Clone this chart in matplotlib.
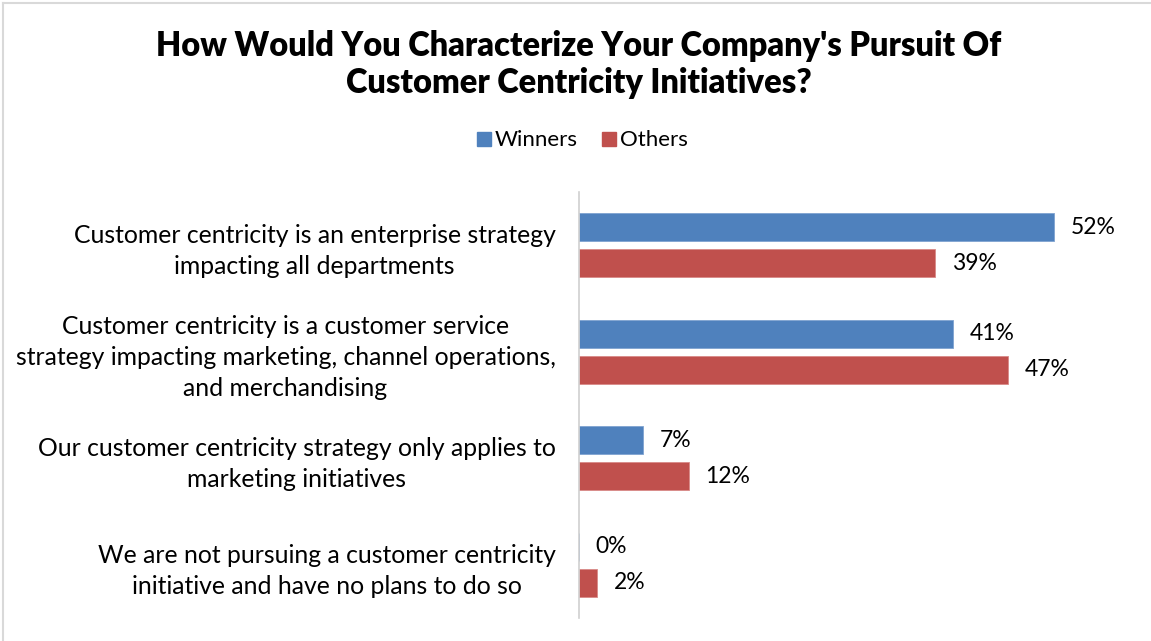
import matplotlib
matplotlib.use("Agg")
import matplotlib.pyplot as plt
import numpy as np
from matplotlib.lines import Line2D

plt.rcParams['font.family'] = ['Lato', 'DejaVu Sans']

# survey answers, top to bottom
categories = [
    "Customer centricity is an enterprise strategy\nimpacting all departments",
    "Customer centricity is a customer service\nstrategy impacting marketing, channel operations,\nand merchandising",
    "Our customer centricity strategy only applies to\nmarketing initiatives",
    "We are not pursuing a customer centricity\ninitiative and have no plans to do so",
]
winners = [52, 41, 7, 0]
others = [39, 47, 12, 2]

blue = '#4F81BD'
red = '#C0504D'

fig = plt.figure(figsize=(11.51, 6.41), dpi=100)
ax = fig.add_axes([579 / 1151, 1 - 618 / 641, 548 / 1151, 426 / 641])

y = np.arange(len(categories))
h = 0.265
off = 0.17
ax.barh(y - off, winners, height=h, color=blue, edgecolor='#7FA3D0', linewidth=0.6)
ax.barh(y + off, others, height=h, color=red, edgecolor='#D88A88', linewidth=0.6)

for i in range(len(categories)):
    ax.annotate(f"{winners[i]}%", (winners[i], y[i] - off), xytext=(12, 0),
                textcoords='offset points', va='center', ha='left', fontsize=16.5)
    ax.annotate(f"{others[i]}%", (others[i], y[i] + off), xytext=(12, 0),
                textcoords='offset points', va='center', ha='left', fontsize=16.5)

ax.set_xlim(0, 60)
ax.set_ylim(len(categories) - 0.5, -0.5)
ax.set_yticks(y)
ax.set_yticklabels(categories, fontsize=17.8, ha='right', multialignment='center',
                   linespacing=1.42)
ax.tick_params(axis='y', length=0, pad=17)
ax.set_xticks([])
for s in ['top', 'right', 'bottom']:
    ax.spines[s].set_visible(False)
ax.spines['left'].set_color('#D0D0D0')
ax.spines['left'].set_linewidth(1.2)

fig.text(0.503, 0.9, "How Would You Characterize Your Company's Pursuit Of\nCustomer Centricity Initiatives?",
         ha='center', va='center', fontsize=23.5, fontweight='heavy', linespacing=1.2)

handles = [Line2D([], [], marker='s', linestyle='', markersize=10, color=blue),
           Line2D([], [], marker='s', linestyle='', markersize=10, color=red)]
fig.legend(handles, ['Winners', 'Others'], loc='center', bbox_to_anchor=(0.505, 0.781),
           ncol=2, frameon=False, fontsize=16, handletextpad=0.1, columnspacing=1.0,
           handlelength=0.8)

# thin outer frame on top and left
fig.add_artist(Line2D([3 / 1151, 1], [1 - 3 / 641, 1 - 3 / 641], transform=fig.transFigure,
                      color='#D9D9D9', linewidth=1.5))
fig.add_artist(Line2D([3 / 1151, 3 / 1151], [0, 1 - 3 / 641], transform=fig.transFigure,
                      color='#D9D9D9', linewidth=1.5))

fig.savefig('out.png', dpi=100)
